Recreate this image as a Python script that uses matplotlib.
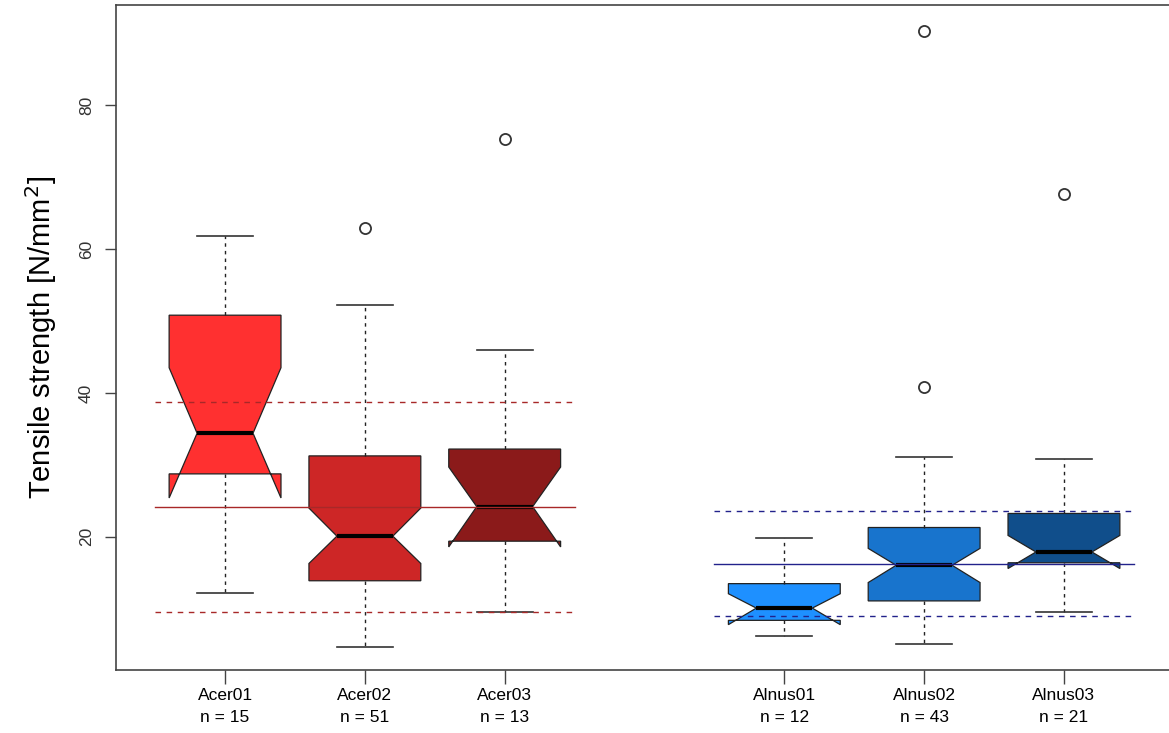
import numpy as np
import matplotlib
matplotlib.use("Agg")
import matplotlib.pyplot as plt

plt.rcParams['font.family'] = ['Liberation Sans', 'DejaVu Sans']

# data
labels = ['Acer01', 'Acer02', 'Acer03', 'Alnus01', 'Alnus02', 'Alnus03']
n_obs = [15, 51, 13, 12, 43, 21]
positions = [1, 2, 3, 5, 6, 7]
whislo = [12.2, 4.7, 9.6, 6.25, 5.1, 9.5]
q1 = [28.75, 13.9, 19.4, 8.4, 11.1, 16.4]
med = [34.4, 20.1, 24.2, 10.1, 16.05, 17.9]
q3 = [50.8, 31.25, 32.2, 13.5, 21.3, 23.25]
whishi = [61.8, 52.2, 46.0, 19.8, 31.15, 30.75]
cilo = [25.4, 16.3, 18.6, 7.8, 13.65, 15.6]
cihi = [43.5, 24.0, 29.7, 12.1, 18.4, 20.2]
fliers = [[], [62.9], [75.3], [], [90.3, 40.85], [67.6]]
box_colors = ['#FF3030', '#CD2626', '#8B1A1A', '#1E90FF', '#1874CD', '#104E8B']

# group mean +/- sd reference lines
group_span = [(0.5, 3.5), (4.5, 7.5)]
group_mean = [24.2, 16.25]
group_sd = [14.6, 7.3]
group_colors = ['#A82828', '#22228B']

stats = []
for i in range(len(labels)):
    stats.append(dict(label=f'{labels[i]}\nn = {n_obs[i]}', whislo=whislo[i], q1=q1[i],
                      med=med[i], q3=q3[i], whishi=whishi[i], cilo=cilo[i],
                      cihi=cihi[i], fliers=fliers[i]))

fig = plt.figure(figsize=(11.69, 7.33), dpi=100)
ax = fig.add_axes([116 / 1169, 63 / 733, (1173 - 116) / 1169, 665 / 733])

bp = ax.bxp(stats, positions=positions, widths=0.8, shownotches=True, patch_artist=True,
            boxprops=dict(edgecolor='#222222', linewidth=0.9),
            medianprops=dict(color='black', linewidth=3, solid_capstyle='butt'),
            whiskerprops=dict(color='#222222', linestyle=(0, (2.5, 3)), linewidth=1),
            capprops=dict(color='#333333', linewidth=1.2),
            capwidths=0.4,
            flierprops=dict(marker='o', markerfacecolor='none', markeredgecolor='#333333',
                            markersize=8, markeredgewidth=1.3))
for patch, col in zip(bp['boxes'], box_colors):
    patch.set_facecolor(col)

for (x0, x1), m, s, c in zip(group_span, group_mean, group_sd, group_colors):
    ax.plot([x0, x1], [m, m], color=c, linewidth=1, zorder=5)
    ax.plot([x0, x1], [m + s, m + s], color=c, linewidth=1, linestyle=(0, (4, 4)), zorder=5)
    ax.plot([x0, x1], [m - s, m - s], color=c, linewidth=1, linestyle=(0, (4, 4)), zorder=5)

ax.set_xlim(0.22, 7.78)
ax.set_ylim(1.5, 93.9)
ax.set_yticks([20, 40, 60, 80])
ax.set_yticklabels(['20', '40', '60', '80'], rotation=90, va='center', fontsize=12.5, color='#333333')
ax.tick_params(axis='y', length=8, width=1, color='#444444', pad=8)
ax.tick_params(axis='x', length=10, width=1, color='#444444', pad=3, labelsize=12.5)
for t in ax.get_xticklabels():
    t.set_linespacing(1.6)
for sp in ax.spines.values():
    sp.set_color('#444444')
    sp.set_linewidth(1.2)
ax.set_ylabel('Tensile strength [N/mm$^2$]', fontsize=21, labelpad=14)

fig.savefig('out.png', dpi=100)
